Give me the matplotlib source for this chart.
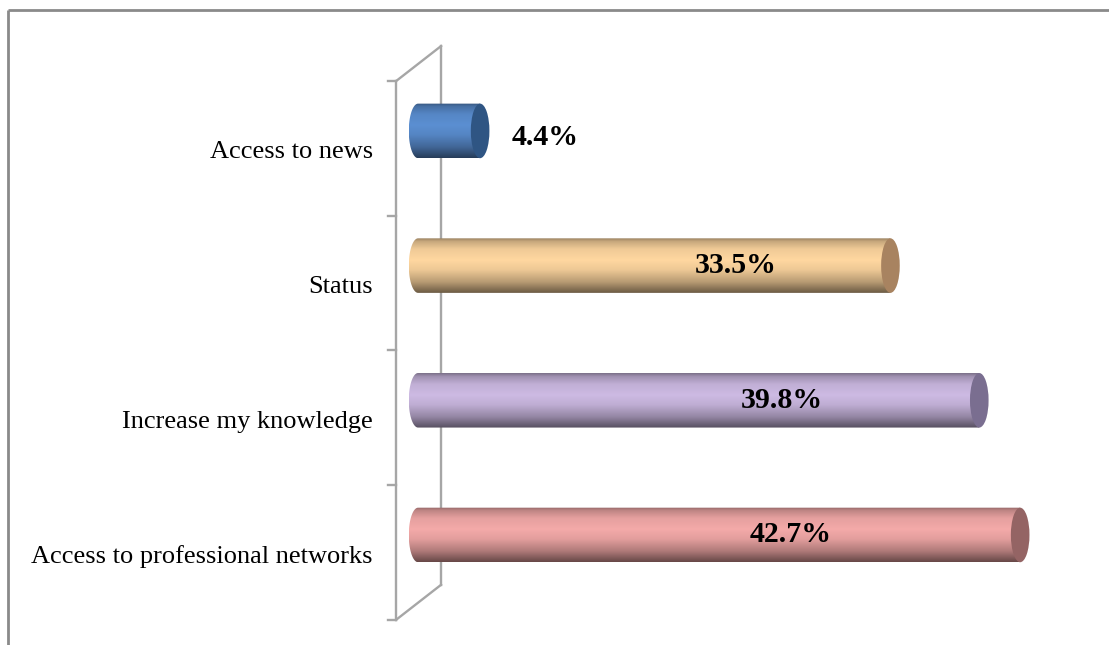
import numpy as np
import matplotlib.pyplot as plt
from matplotlib.patches import Ellipse, Polygon
from matplotlib.colors import to_rgb

# Reasons for joining, bottom row first
categories = ["Access to professional networks", "Increase my knowledge",
              "Status", "Access to news"]
values = [42.7, 39.8, 33.5, 4.4]
value_labels = ["42.7%", "39.8%", "33.5%", "4.4%"]

# base colour of each cylinder and of its end cap
body_colors = ["#f4aaa9", "#cdbae3", "#ffd7a0", "#5b8fd2"]
cap_colors = ["#946464", "#7a6e90", "#a88360", "#2f5583"]
# where the in-bar labels sit (data units); None = just past the bar end
label_x = [26.4, 25.8, 22.5, None]

plt.rcParams['font.family'] = ['Liberation Serif', 'DejaVu Serif']

fig = plt.figure(figsize=(11.09, 6.45), dpi=100)
ax = fig.add_axes([0, 0, 1, 1])
ax.set_xlim(-29.65, 49.0)
ax.set_ylim(-0.817, 3.972)
ax.axis('off')

# chart border (top and left only)
ax.plot([7.5 / 1109, 7.5 / 1109], [0, 1 - 9.5 / 645], color='#8a8a8a',
        lw=2.0, transform=ax.transAxes, solid_capstyle='butt')
ax.plot([7.5 / 1109, 1], [1 - 9.5 / 645, 1 - 9.5 / 645], color='#8a8a8a',
        lw=2.0, transform=ax.transAxes, solid_capstyle='butt')

# 3-D wall outline: front edge, back edge and the joining diagonals
wall_col = '#a6a6a6'
front_x, back_x = -1.56, 1.63
floor_y, top_y, depth_y = -0.63, 3.37, 0.26
ax.plot([front_x, front_x], [floor_y, top_y], color=wall_col, lw=1.7, zorder=1)
ax.plot([back_x, back_x], [floor_y + depth_y, top_y + depth_y],
        color=wall_col, lw=1.7, zorder=1)
ax.plot([front_x, back_x], [top_y, top_y + depth_y], color=wall_col, lw=1.7, zorder=1)
ax.plot([front_x, back_x], [floor_y, floor_y + depth_y], color=wall_col, lw=1.7, zorder=1)
ticks = np.linspace(floor_y, top_y, len(categories) + 1)
for t in ticks:
    ax.plot([-2.13, front_x], [t, t], color=wall_col, lw=1.7, zorder=1)

# category labels centred between the wall ticks
for i, name in enumerate(categories):
    ax.text(-3.2, (ticks[i] + ticks[i + 1]) / 2 - 0.03, name, ha='right',
            va='center', fontsize=19, color='black')

# vertical shading profile of a cylinder (top -> bottom)
stops = np.array([0.0, 0.06, 0.2, 0.4, 0.58, 0.8, 1.0])
shade = np.array([0.6, 0.78, 0.94, 1.0, 0.93, 0.72, 0.42])
prof = np.interp(np.linspace(0, 1, 200), stops, shade)

bar_h = 0.405
rx = 0.66
for i, v in enumerate(values):
    y0, y1 = i - bar_h / 2, i + bar_h / 2
    base = np.array(to_rgb(body_colors[i]))
    img = np.clip(prof[:, None, None] * base[None, None, :], 0, 1)

    # body outline: rounded left end, straight run to the value
    th = np.linspace(np.pi / 2, 3 * np.pi / 2, 60)
    left = np.column_stack([rx * np.cos(th), i + bar_h / 2 * np.sin(th)])
    pts = np.vstack([left, [[v, y0], [v, y1]]])
    clip = Polygon(pts, closed=True, transform=ax.transData, facecolor='none',
                   edgecolor='none')
    ax.add_patch(clip)
    im = ax.imshow(img, extent=[-rx, v, y0, y1], aspect='auto',
                   interpolation='bilinear', zorder=2)
    im.set_clip_path(clip)

    # darker end cap
    ax.add_patch(Ellipse((v, i), 2 * rx, bar_h, facecolor=cap_colors[i],
                         edgecolor='none', zorder=3))

    if label_x[i] is None:
        ax.text(v + 2.25, i - 0.05, value_labels[i], ha='left', va='center',
                fontsize=21.5, fontweight='bold', zorder=4)
    else:
        ax.text(label_x[i], i, value_labels[i], ha='center', va='center',
                fontsize=21.5, fontweight='bold', zorder=4)

fig.savefig('out.png', dpi=100)
